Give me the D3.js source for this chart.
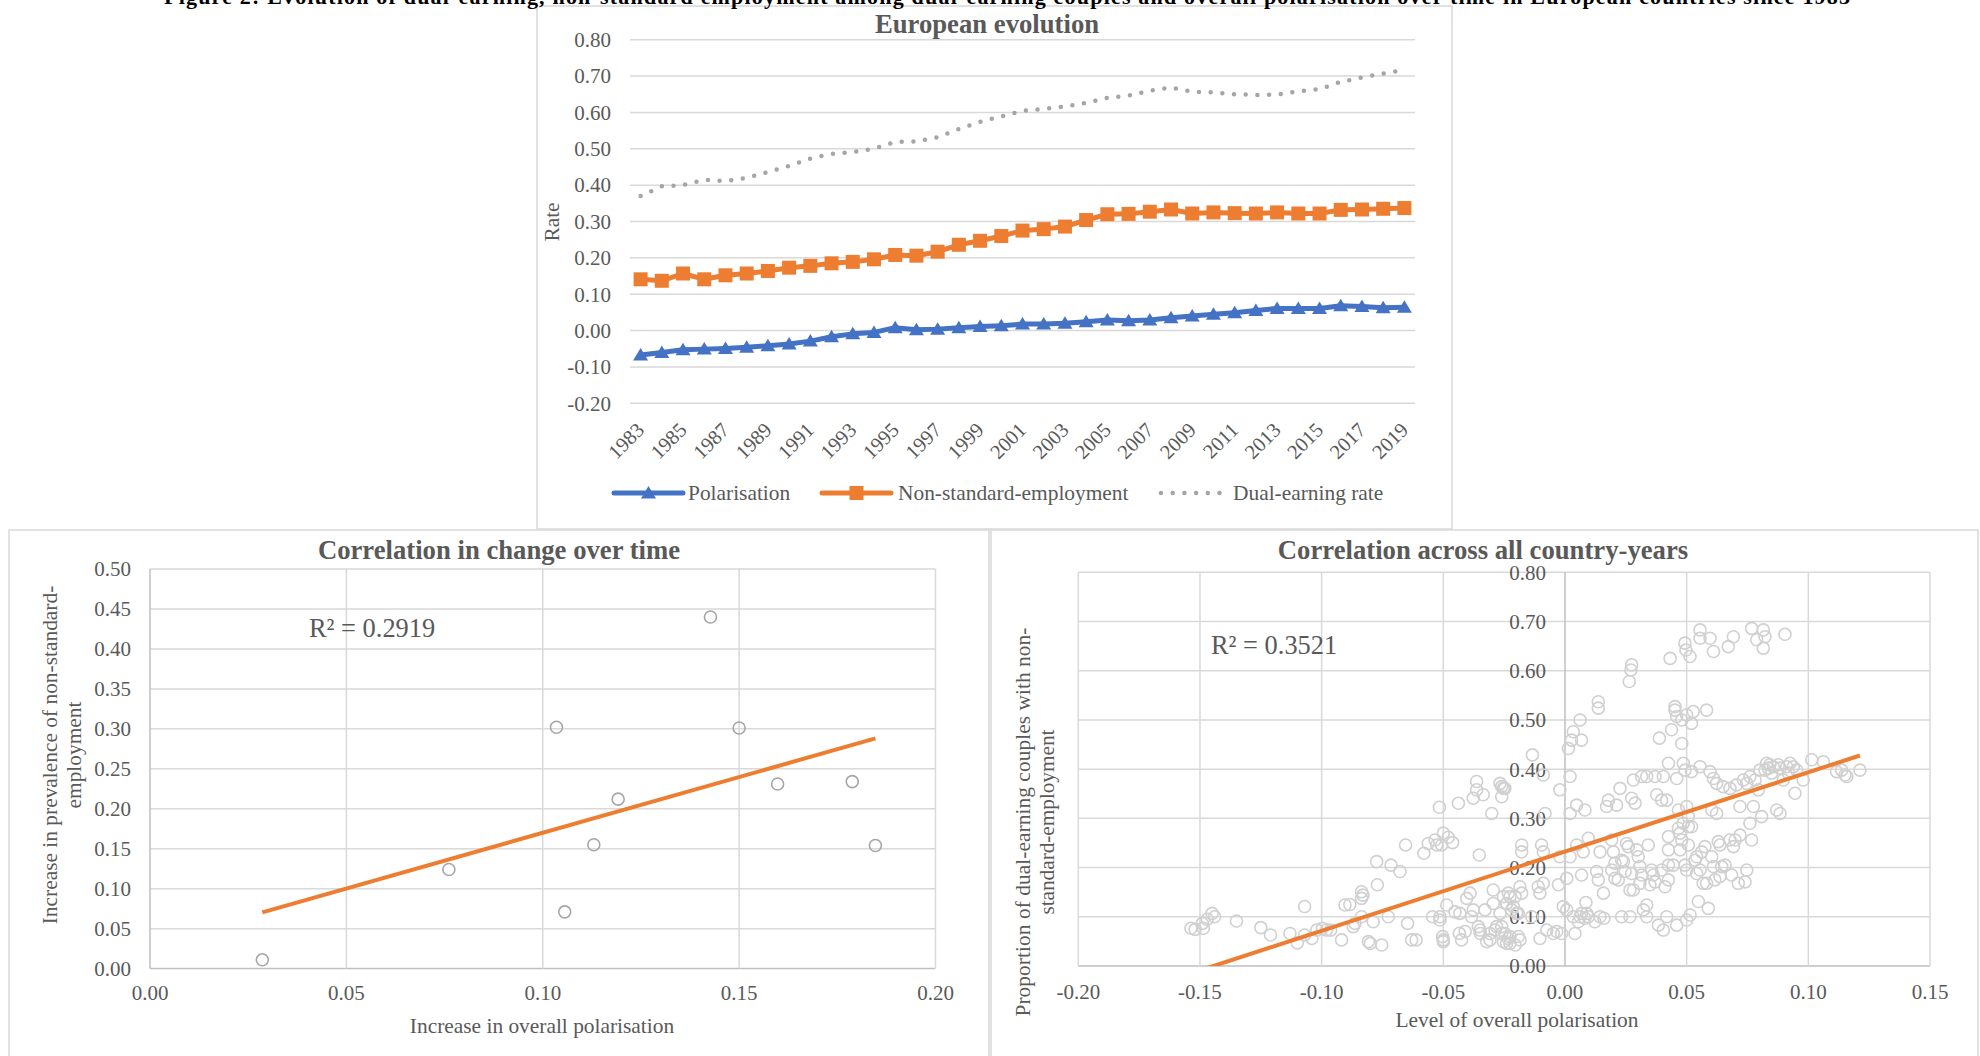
<!DOCTYPE html>
<html>
<head>
<meta charset="utf-8">
<script src="https://cdn.jsdelivr.net/npm/d3@7"></script>
<style>
  html, body { margin: 0; padding: 0; background: #ffffff; }
  svg { display: block; }
  text { font-family: "Liberation Serif", "Times New Roman", serif; }
</style>
</head>
<body>
<script>
// ---- European evolution (line chart) ----
const years = [1983,1984,1985,1986,1987,1988,1989,1990,1991,1992,1993,1994,1995,1996,1997,1998,1999,2000,2001,2002,2003,2004,2005,2006,2007,2008,2009,2010,2011,2012,2013,2014,2015,2016,2017,2018,2019];
const polarisation = [-0.067,-0.060,-0.053,-0.051,-0.049,-0.046,-0.042,-0.037,-0.029,-0.017,-0.009,-0.005,0.008,0.002,0.004,0.008,0.011,0.013,0.018,0.018,0.020,0.024,0.029,0.027,0.029,0.035,0.040,0.045,0.049,0.055,0.061,0.061,0.061,0.068,0.066,0.063,0.064];
const nonStandard = [0.141,0.137,0.157,0.141,0.152,0.157,0.164,0.173,0.178,0.185,0.189,0.196,0.208,0.206,0.217,0.236,0.247,0.260,0.275,0.279,0.286,0.304,0.320,0.321,0.327,0.333,0.322,0.325,0.323,0.322,0.325,0.322,0.322,0.332,0.333,0.335,0.337];
const dualEarning = [0.370,0.397,0.400,0.415,0.411,0.420,0.436,0.453,0.473,0.486,0.491,0.500,0.519,0.520,0.532,0.554,0.574,0.589,0.604,0.610,0.616,0.626,0.640,0.646,0.660,0.668,0.657,0.655,0.650,0.648,0.649,0.658,0.664,0.684,0.696,0.707,0.717];
const rateTicks = [-0.2,-0.1,0,0.1,0.2,0.3,0.4,0.5,0.6,0.7,0.8];
const yearLabels = [1983,1985,1987,1989,1991,1993,1995,1997,1999,2001,2003,2005,2007,2009,2011,2013,2015,2017,2019];

// ---- Correlation in change over time (one point per country) ----
const changePolarisation = [0.0286,0.0761,0.1035,0.1056,0.1130,0.1192,0.1427,0.1500,0.1598,0.1788,0.1847];
const changeNonStandard  = [0.011,0.124,0.302,0.071,0.155,0.212,0.440,0.301,0.231,0.234,0.154];
const changeXTicks = [0,0.05,0.10,0.15,0.20];
const changeYTicks = [0,0.05,0.10,0.15,0.20,0.25,0.30,0.35,0.40,0.45,0.50];
const changeR2 = "R\u00B2 = 0.2919";

// ---- Correlation across all country-years ----
const levelPolarisation = [
-0.1537,-0.152,-0.149,-0.1486,-0.147,-0.145,-0.144,-0.135,-0.125,-0.121,-0.113,-0.110,-0.107,-0.107,-0.104,-0.102,-0.0997,-0.098,-0.0963,-0.0918,
-0.0904,-0.0884,-0.087,-0.0863,-0.0836,-0.0836,-0.083,-0.0836,-0.080,-0.0808,-0.0788,-0.0774,-0.0771,-0.0753,-0.0726,-0.0715,-0.0678,-0.0655,-0.0647,-0.063,
-0.0612,-0.058,-0.0562,-0.0544,-0.0534,-0.0527,-0.0516,-0.0514,-0.0514,-0.0507,-0.050,-0.0503,-0.050,-0.050,-0.0486,-0.048,-0.0462,-0.0452,-0.0438,-0.0434,
-0.0432,-0.0425,-0.041,-0.0404,-0.039,-0.0384,-0.0377,-0.0363,-0.0363,-0.0356,-0.0352,-0.0348,-0.0336,-0.0329,-0.0322,-0.0308,-0.0301,-0.0295,-0.0288,-0.0281,
-0.0267,-0.026,-0.026,-0.0253,-0.0247,-0.0247,-0.024,-0.0233,-0.0226,-0.0219,-0.0205,
-0.0253,-0.0082,-0.0021,-0.0089,-0.0134,-0.0178,-0.0178,-0.0096,-0.0089,-0.0021,-0.0185,-0.0178,-0.011,-0.0103,-0.0089,-0.0027,-0.0226,-0.024,-0.0212,-0.0192,
-0.0185,-0.0226,-0.024,-0.0075,-0.0048,-0.0034,-0.0103,-0.0014,-0.0137,-0.026,
-0.0007,0.0007,0.0041,0.0034,0.0062,0.0055,0.0068,0.0082,0.0089,0.0096,0.0086,0.0068,0.0007,0.0021,0.0048,0.0075,0.0096,0.0021,0.0048,0.0082,
0.0021,0.0014,0.0027,0.0034,0.0062,0.0068,0.0123,0.0144,0.016,0.0158,0.0137,0.013,0.0144,0.0137,0.0137,0.0171,0.0178,0.0212,0.0192,0.0199,
0.0205,0.0192,0.0205,0.0233,0.0226,0.0233,0.024,0.0247,0.0253,0.026,0.0267,0.0281,0.0267,0.0264,0.0271,0.0274,0.0274,0.0281,0.0288,0.0295,
0.0301,0.0308,0.0315,0.0322,0.0336,0.0336,0.0342,0.0349,0.0363,0.037,0.0315,0.0336,0.037,0.0404,0.0377,0.0397,0.0418,0.0388,0.0384,0.0404,
0.0418,0.0397,0.0411,0.0425,0.0425,0.0425,0.0425,0.0432,0.0438,0.0445,0.0452,0.0452,0.0459,0.0459,0.0459,0.0466,0.0466,0.0473,0.048,0.048,
0.048,0.0486,0.0493,0.0493,0.0497,0.05,0.05,0.0507,0.0507,0.0507,0.05,0.0493,0.05,0.0514,0.0514,0.052,0.052,0.0527,0.0534,0.0541,
0.0541,0.0548,0.0555,0.0555,0.0555,0.0562,0.0568,0.0575,0.0582,0.0589,0.0596,0.0596,0.0603,0.0603,0.061,0.061,0.061,0.0616,0.0623,0.0623,
0.063,0.0637,0.0644,0.065,0.0658,0.0671,0.0678,0.0678,0.0685,0.0692,0.0699,0.0705,0.0712,0.0719,0.0719,0.0733,0.074,0.0747,0.0747,0.076,
0.076,0.0767,0.0767,0.0774,0.0781,0.0788,0.0795,0.0801,0.0808,0.0815,0.0815,0.0822,0.0822,0.0829,0.0836,0.0842,0.0849,0.0856,0.087,0.0877,
0.0884,0.0884,0.0897,0.0904,0.0911,0.0918,0.0925,0.0938,0.0945,0.0952,0.0979,0.1014,0.1062,0.1116,0.1137,0.1151,0.1158,0.1212,
-0.0377,-0.0349,-0.0295,-0.0267,-0.0233,-0.0199,-0.0192,-0.0253,-0.0308,-0.0205,-0.026,
0.0219,0.0274,0.0308,0.0356,0.0425,0.0473,0.0486,0.052,0.0555,0.0582,0.0637,0.0692
];
const levelDualNonStandard = [
0.0766,0.0745,0.0867,0.0766,0.095,0.107,0.100,0.0915,0.078,0.063,0.066,0.047,0.121,0.063,0.056,0.073,0.0766,0.073,0.073,0.053,
0.124,0.125,0.080,0.0867,0.1375,0.151,0.144,0.100,0.046,0.0495,0.090,0.212,0.165,0.0427,0.100,0.205,0.192,0.246,0.0867,0.053,
0.053,0.229,0.249,0.100,0.256,0.246,0.3225,0.100,0.0935,0.246,0.270,0.0596,0.053,0.0495,0.124,0.2615,0.2507,0.110,0.3306,0.0664,
0.107,0.053,0.070,0.1375,0.148,0.100,0.341,0.375,0.358,0.080,0.2256,0.066,0.348,0.114,0.0495,0.066,0.310,0.1545,0.073,0.080,
0.371,0.3645,0.344,0.141,0.066,0.361,0.127,0.056,0.046,0.114,0.141,
0.361,0.310,0.358,0.388,0.429,0.246,0.232,0.246,0.232,0.222,0.161,0.148,0.161,0.148,0.168,0.165,0.141,0.127,0.1206,0.107,
0.053,0.0596,0.046,0.073,0.066,0.070,0.056,0.066,0.100,0.080,
0.1206,0.114,0.066,0.100,0.100,0.090,0.107,0.097,0.107,0.100,0.129,0.185,0.178,0.222,0.246,0.232,0.2595,0.310,0.327,0.317,
0.385,0.442,0.459,0.476,0.500,0.459,0.090,0.100,0.097,0.148,0.175,0.192,0.232,0.537,0.524,0.324,0.337,0.327,0.256,0.232,
0.209,0.195,0.178,0.100,0.361,0.215,0.212,0.192,0.249,0.2425,0.1545,0.1545,0.100,0.578,0.6016,0.612,0.341,0.378,0.331,0.236,
0.222,0.168,0.185,0.114,0.124,0.100,0.246,0.165,0.185,0.171,0.385,0.385,0.385,0.385,0.348,0.337,0.337,0.463,0.083,0.073,
0.100,0.195,0.161,0.263,0.236,0.205,0.412,0.625,0.480,0.205,0.527,0.520,0.507,0.381,0.083,0.280,0.317,0.270,0.500,0.452,
0.256,0.412,0.398,0.656,0.642,0.510,0.324,0.3035,0.283,0.246,0.195,0.205,0.0935,0.1037,0.629,0.493,0.395,0.517,0.215,0.222,
0.188,0.131,0.683,0.666,0.405,0.232,0.168,0.2425,0.520,0.117,0.395,0.666,0.317,0.222,0.639,0.381,0.202,0.175,0.371,0.310,
0.2527,0.246,0.202,0.3645,0.205,0.649,0.256,0.361,0.185,0.669,0.256,0.368,0.168,0.266,0.324,0.378,0.171,0.371,0.195,0.290,
0.385,0.686,0.256,0.324,0.378,0.663,0.358,0.398,0.3035,0.683,0.646,0.669,0.398,0.412,0.402,0.409,0.392,0.405,0.317,0.409,
0.402,0.310,0.378,0.674,0.405,0.392,0.412,0.405,0.351,0.398,0.378,0.419,0.415,0.395,0.398,0.388,0.385,0.398,
0.114,0.073,0.127,0.107,0.148,0.107,0.060,0.0495,0.053,0.0427,0.066,
0.175,0.188,0.202,0.195,0.175,0.236,0.290,0.283,0.195,0.168,0.182,0.2425
];
const levelXTicks = [-0.20,-0.15,-0.10,-0.05,0,0.05,0.10,0.15];
const levelYTicks = [0,0.1,0.2,0.3,0.4,0.5,0.6,0.7,0.8];
const levelR2 = "R\u00B2 = 0.3521";

// ---- colours and type sizes ----
const BLUE = "#4472C4", ORANGE = "#ED7D31", GREY = "#A5A5A5";
const GRID = "#D9D9D9", AXIS = "#BFBFBF", LABEL = "#595959", FRAME = "#D9D9D9";
const TICK_FS = 21, TEXT_FS = 21.4, TITLE_FS = 26.7, R2_FS = 26.4;

const svg = d3.select("body").append("svg")
  .attr("width", 1980).attr("height", 1056);

// panel frames
function frame(x0, y0, x1, y1) {
  svg.append("rect").attr("x", x0).attr("y", y0)
    .attr("width", x1 - x0).attr("height", y1 - y0)
    .attr("fill", "#fff").attr("stroke", FRAME).attr("stroke-width", 1.5);
}
frame(9, 530, 989, 1070);
frame(991, 530, 1978, 1070);
frame(537, 6, 1452, 529);

// figure caption, running off the top edge of the page
svg.append("text")
  .attr("x", 1007).attr("y", 3.5)
  .attr("text-anchor", "middle")
  .attr("font-weight", "bold").attr("font-size", 22).attr("fill", "#000")
  .attr("textLength", 1686).attr("lengthAdjust", "spacing")
  .text("Figure 2: Evolution of dual-earning, non-standard employment among dual-earning couples and overall polarisation over time in European countries since 1983");

function title(txt, cx, y) {
  svg.append("text").attr("x", cx).attr("y", y)
    .attr("text-anchor", "middle").attr("font-weight", "bold")
    .attr("font-size", TITLE_FS).attr("fill", LABEL).text(txt);
}

// =============== European evolution ===============
{
  const x = d3.scaleBand().domain(years).range([630, 1415]);
  const cx = d => x(d) + x.bandwidth() / 2;
  const y = d3.scaleLinear().domain([-0.2, 0.8]).range([403.3, 39.7]);
  const g = svg.append("g");

  g.selectAll("line.grid").data(rateTicks).join("line")
    .attr("x1", 630).attr("x2", 1415)
    .attr("y1", d => y(d)).attr("y2", d => y(d))
    .attr("stroke", GRID).attr("stroke-width", 1.5);

  g.selectAll("text.ytick").data(rateTicks).join("text")
    .attr("x", 611).attr("y", d => y(d)).attr("dy", "0.35em")
    .attr("text-anchor", "end").attr("font-size", TICK_FS).attr("fill", LABEL)
    .text(d => d3.format(".2f")(d).replace("\u2212", "-"));

  g.selectAll("text.xtick").data(yearLabels).join("text")
    .attr("transform", d => `translate(${cx(d) + 5},${y(-0.2) + 28}) rotate(-45)`)
    .attr("text-anchor", "end").attr("font-size", 20.5).attr("fill", LABEL)
    .text(d => d);

  svg.append("text")
    .attr("transform", `translate(559,222) rotate(-90)`)
    .attr("text-anchor", "middle").attr("font-size", TEXT_FS).attr("fill", LABEL)
    .text("Rate");

  title("European evolution", 987, 33);

  const line = vals => d3.line().x((d, i) => cx(years[i])).y(d => y(d))(vals);

  g.append("path").attr("d", line(dualEarning))
    .attr("fill", "none").attr("stroke", GREY).attr("stroke-width", 4.5)
    .attr("stroke-linecap", "round").attr("stroke-dasharray", "0 11.7");

  g.append("path").attr("d", line(nonStandard))
    .attr("fill", "none").attr("stroke", ORANGE).attr("stroke-width", 5)
    .attr("stroke-linejoin", "round");
  g.selectAll("rect.nse").data(nonStandard).join("rect")
    .attr("x", (d, i) => cx(years[i]) - 7).attr("y", d => y(d) - 7)
    .attr("width", 14).attr("height", 14).attr("fill", ORANGE);

  g.append("path").attr("d", line(polarisation))
    .attr("fill", "none").attr("stroke", BLUE).attr("stroke-width", 5)
    .attr("stroke-linejoin", "round");
  const tri = "M0,-7L7.5,5.5L-7.5,5.5Z";
  g.selectAll("path.pol").data(polarisation).join("path")
    .attr("d", tri)
    .attr("transform", (d, i) => `translate(${cx(years[i])},${y(d)})`)
    .attr("fill", BLUE);

  // legend
  const ly = 493;
  const lg = svg.append("g");
  lg.append("line").attr("x1", 614).attr("x2", 683).attr("y1", ly).attr("y2", ly)
    .attr("stroke", BLUE).attr("stroke-width", 5).attr("stroke-linecap", "round");
  lg.append("path").attr("d", tri).attr("transform", `translate(648.5,${ly})`).attr("fill", BLUE);
  lg.append("text").attr("x", 688).attr("y", ly).attr("dy", "0.35em")
    .attr("font-size", TEXT_FS).attr("fill", LABEL).text("Polarisation");

  lg.append("line").attr("x1", 822).attr("x2", 891).attr("y1", ly).attr("y2", ly)
    .attr("stroke", ORANGE).attr("stroke-width", 5).attr("stroke-linecap", "round");
  lg.append("rect").attr("x", 849.5).attr("y", ly - 7).attr("width", 14).attr("height", 14).attr("fill", ORANGE);
  lg.append("text").attr("x", 898).attr("y", ly).attr("dy", "0.35em")
    .attr("font-size", TEXT_FS).attr("fill", LABEL).text("Non-standard-employment");

  lg.append("line").attr("x1", 1161).attr("x2", 1222).attr("y1", ly).attr("y2", ly)
    .attr("stroke", GREY).attr("stroke-width", 4.5)
    .attr("stroke-linecap", "round").attr("stroke-dasharray", "0 11.7");
  lg.append("text").attr("x", 1233).attr("y", ly).attr("dy", "0.35em")
    .attr("font-size", TEXT_FS).attr("fill", LABEL).text("Dual-earning rate");
}

// least-squares fit
function fit(xs, ys) {
  const mx = d3.mean(xs), my = d3.mean(ys);
  let sxy = 0, sxx = 0;
  xs.forEach((v, i) => { sxy += (v - mx) * (ys[i] - my); sxx += (v - mx) * (v - mx); });
  const b = sxy / sxx;
  return { slope: b, intercept: my - b * mx };
}

function scatterPanel(opt) {
  const { x, y, xs, ys, xTicks, yTicks, stroke } = opt;
  const g = svg.append("g");
  const [xa, xb] = x.range(), [ya, yb] = y.range();
  const id = "clip" + Math.round(xa);
  svg.append("clipPath").attr("id", id).append("rect")
    .attr("x", xa).attr("y", yb).attr("width", xb - xa).attr("height", ya - yb);

  g.selectAll("line.h").data(yTicks).join("line")
    .attr("x1", xa).attr("x2", xb).attr("y1", d => y(d)).attr("y2", d => y(d))
    .attr("stroke", d => d === 0 ? AXIS : GRID).attr("stroke-width", 1.5);
  g.selectAll("line.v").data(xTicks).join("line")
    .attr("x1", d => x(d)).attr("x2", d => x(d)).attr("y1", ya).attr("y2", yb)
    .attr("stroke", d => d === 0 ? AXIS : GRID).attr("stroke-width", 1.5);

  g.selectAll("text.yt").data(yTicks).join("text")
    .attr("x", opt.yLabelX).attr("y", d => y(d)).attr("dy", "0.35em")
    .attr("text-anchor", "end").attr("font-size", TICK_FS).attr("fill", LABEL)
    .text(d => d3.format(".2f")(d).replace("\u2212", "-"));
  g.selectAll("text.xt").data(xTicks).join("text")
    .attr("x", d => x(d)).attr("y", opt.xLabelY).attr("dy", "0.35em")
    .attr("text-anchor", "middle").attr("font-size", TICK_FS).attr("fill", LABEL)
    .text(d => d3.format(".2f")(d).replace("\u2212", "-"));

  g.selectAll("circle").data(xs).join("circle")
    .attr("cx", d => x(d)).attr("cy", (d, i) => y(ys[i])).attr("r", 6)
    .attr("fill", "none").attr("stroke", stroke).attr("stroke-width", 1.6);

  const f = fit(xs, ys);
  const [x0, x1] = d3.extent(xs);
  g.append("line").attr("clip-path", `url(#${id})`)
    .attr("x1", x(x0)).attr("y1", y(f.intercept + f.slope * x0))
    .attr("x2", x(x1)).attr("y2", y(f.intercept + f.slope * x1))
    .attr("stroke", ORANGE).attr("stroke-width", 4);
  return g;
}

// =============== Correlation in change over time ===============
{
  const x = d3.scaleLinear().domain([0, 0.2]).range([150, 935.5]);
  const y = d3.scaleLinear().domain([0, 0.5]).range([968.6, 569]);
  scatterPanel({ x, y, xs: changePolarisation, ys: changeNonStandard,
    xTicks: changeXTicks, yTicks: changeYTicks, stroke: "#A6A6A6",
    yLabelX: 131, xLabelY: 993 });
  title("Correlation in change over time", 499, 559);
  svg.append("text").attr("x", 309).attr("y", 637)
    .attr("font-size", R2_FS).attr("fill", LABEL).text(changeR2);
  svg.append("text").attr("x", 542).attr("y", 1026).attr("dy", "0.35em")
    .attr("text-anchor", "middle").attr("font-size", TEXT_FS).attr("fill", LABEL)
    .text("Increase in overall polarisation");
  const yt = svg.append("text").attr("transform", "translate(57,755) rotate(-90)")
    .attr("text-anchor", "middle").attr("font-size", TEXT_FS).attr("fill", LABEL);
  yt.append("tspan").attr("x", 0).attr("dy", 0).text("Increase in prevalence of non-standard-");
  yt.append("tspan").attr("x", 0).attr("dy", 24).text("employment");
}

// =============== Correlation across all country-years ===============
{
  const x = d3.scaleLinear().domain([-0.2, 0.15]).range([1078.3, 1930]);
  const y = d3.scaleLinear().domain([0, 0.8]).range([966, 572.3]);
  scatterPanel({ x, y, xs: levelPolarisation, ys: levelDualNonStandard,
    xTicks: levelXTicks, yTicks: levelYTicks, stroke: "#D0D0D0",
    yLabelX: x(0) - 19, xLabelY: 992 });
  title("Correlation across all country-years", 1483, 559);
  svg.append("text").attr("x", 1211).attr("y", 654)
    .attr("font-size", R2_FS).attr("fill", LABEL).text(levelR2);
  svg.append("text").attr("x", 1517).attr("y", 1020).attr("dy", "0.35em")
    .attr("text-anchor", "middle").attr("font-size", TEXT_FS).attr("fill", LABEL)
    .text("Level of overall polarisation");
  // this axis title is set with wider tracking
  const yt = svg.append("text").attr("transform", "translate(1030,822) rotate(-90)")
    .attr("text-anchor", "middle").attr("font-size", TEXT_FS).attr("fill", LABEL);
  yt.append("tspan").attr("x", 0).attr("dy", 0)
    .attr("textLength", 389).attr("lengthAdjust", "spacing")
    .text("Proportion of dual-earning couples with non-");
  yt.append("tspan").attr("x", 0).attr("dy", 24)
    .attr("textLength", 185).attr("lengthAdjust", "spacing")
    .text("standard-employment");
}
</script>
</body>
</html>
